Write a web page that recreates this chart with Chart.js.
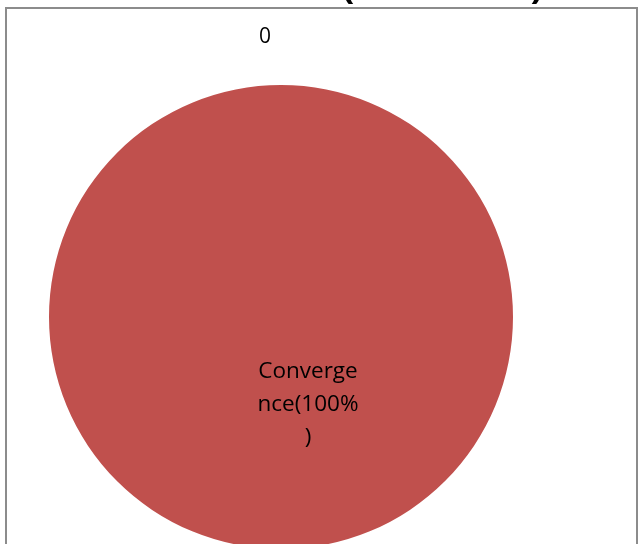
<!DOCTYPE html>
<html><head><meta charset="UTF-8">
<title>Pie</title>
<script src="https://cdn.jsdelivr.net/npm/chart.js"></script>
<style>
body {
  margin: 0;
  overflow: hidden;
  background: #ffffff;
}
.wrap {
  position: absolute;
  left: 0;
  top: 0;
  width: 640px;
  height: 600px;
}
</style>
</head>
<body>
<div class="wrap"><canvas id="pie" width="640" height="600"></canvas></div>
<script>
// data
const categories = ['', 'Convergence'];
const values = [0, 100];
const sliceLabels = ['0', 'Converge\nnce(100%\n)'];
const colors = ['#4F81BD', '#C0504D'];

// frame, clipped title and the slice labels
const decor = {
  id: 'decor',
  afterDraw(chart) {
    const ctx = chart.ctx;
    const arcs = chart.getDatasetMeta(0).data;
    ctx.save();

    // title sits above the visible area, only the parentheses hang down
    ctx.fillStyle = '#000000';
    ctx.font = 'bold 38px "Open Sans"';
    ctx.textAlign = 'center';
    ctx.textBaseline = 'alphabetic';
    ctx.fillText('(', 348, -2);
    ctx.fillText(')', 537, -2);

    // chart frame
    ctx.strokeStyle = '#8c8c8c';
    ctx.lineWidth = 2;
    ctx.strokeRect(6, 8, 631, 620);

    // labels
    ctx.fillStyle = '#000000';
    ctx.textBaseline = 'middle';

    // zero slice: outside, above the start of the pie
    ctx.font = '21px "Open Sans"';
    const a0 = arcs[0];
    const r0 = a0.outerRadius + 48;
    const ang0 = a0.startAngle;
    ctx.fillText(sliceLabels[0], a0.x + r0 * Math.cos(ang0) - 16, a0.y + r0 * Math.sin(ang0));

    // main slice: inside
    ctx.font = '22.5px "Open Sans"';
    const a1 = arcs[1];
    const lines = sliceLabels[1].split('\n');
    const cx = a1.x + 27;
    const cy = a1.y + 55;
    lines.forEach((t, i) => ctx.fillText(t, cx, cy + i * 33));

    ctx.restore();
  }
};

new Chart(document.getElementById('pie').getContext('2d'), {
  type: 'pie',
  data: {
    labels: categories,
    datasets: [{
      data: values,
      backgroundColor: colors,
      borderWidth: 0
    }]
  },
  options: {
    responsive: false,
    animation: false,
    layout: {
      padding: { left: 49, right: 127, top: 85, bottom: 51 }
    },
    plugins: {
      legend: { display: false },
      tooltip: { enabled: false }
    }
  },
  plugins: [decor]
});
</script>
</body></html>
